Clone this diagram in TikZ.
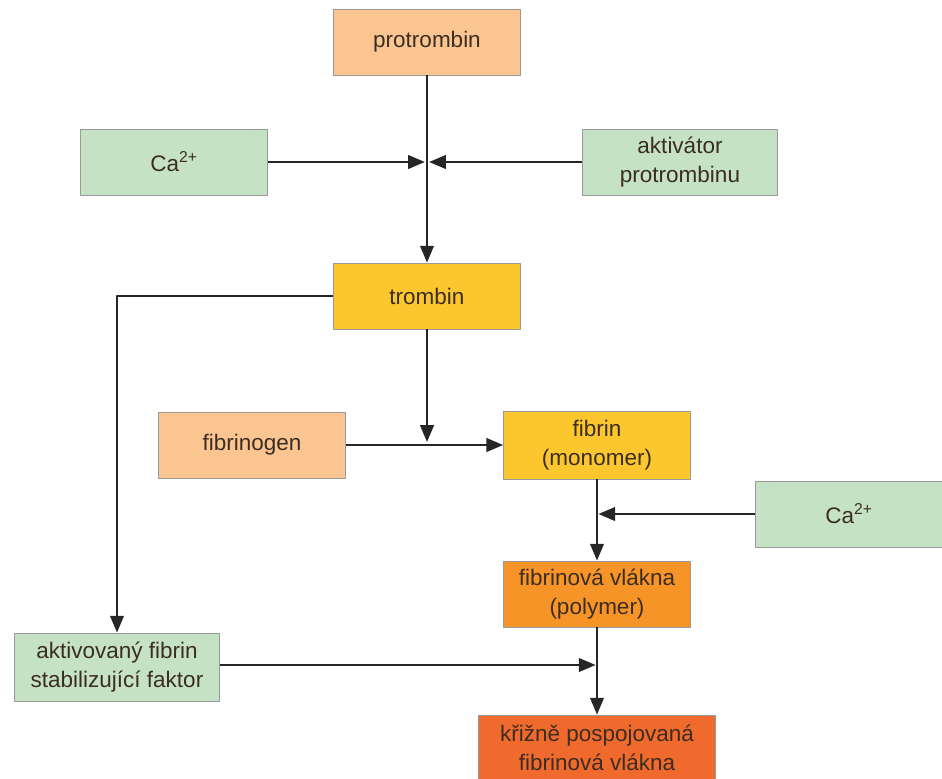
\documentclass[tikz,border=0pt]{standalone}
\usepackage{fontspec}
\setmainfont{Liberation Sans}
\usetikzlibrary{arrows.meta}
\definecolor{peach}{RGB}{251,197,146}
\definecolor{mint}{RGB}{197,227,196}
\definecolor{sun}{RGB}{252,199,46}
\definecolor{amber}{RGB}{247,148,40}
\definecolor{rust}{RGB}{240,106,46}
\definecolor{ink}{RGB}{60,45,35}
\begin{document}
\begin{tikzpicture}[x=0.025cm, y=-0.025cm, line join=round, >={Triangle[length=0.42cm,width=0.34cm]},
	box/.style={draw=black!40, line width=0.6pt, minimum width=4.67cm, minimum height=1.65cm,
		align=center, text=ink, font=\fontsize{16}{21}\selectfont},
	link/.style={line width=1.6pt, black!85}]
	\useasboundingbox (0,0) rectangle (942,778);
	% boxes
	\node[box, fill=peach] (protrombin) at (427,42) {protrombin};
	\node[box, fill=mint] (ca) at (174,162) {Ca\textsuperscript{2+}};
	\node[box, fill=mint, minimum width=4.87cm] (aktivator) at (680,162) {aktivátor\\protrombinu};
	\node[box, fill=sun] (trombin) at (427,296) {trombin};
	\node[box, fill=peach] (fibrinogen) at (252,445) {fibrinogen};
	\node[box, fill=sun, minimum height=1.7cm] (fibrin) at (597,445) {fibrin\\(monomer)};
	\node[box, fill=mint] (caII) at (849,514) {Ca\textsuperscript{2+}};
	\node[box, fill=amber] (vlakna) at (597,594) {fibrinová vlákna\\(polymer)};
	\node[box, fill=mint, minimum width=5.12cm, minimum height=1.7cm] (faktor) at (117,667) {aktivovaný fibrin\\stabilizující faktor};
	\node[box, fill=rust, minimum width=5.92cm] (krizne) at (597,748) {křižně pospojovaná\\fibrinová vlákna};
	% joints
	\coordinate (j1) at (427,162);
	\coordinate (j2) at (427,442);
	\coordinate (j3) at (597,514);
	\coordinate (j4) at (597,665);
	% connectors
	\draw[link,->] (protrombin) -- (trombin);
	\draw[link,->,shorten >=1.5pt] (ca) -- (j1);
	\draw[link,->,shorten >=1.5pt] (aktivator) -- (j1);
	\draw[link,->] (trombin) -- (j2);
	\draw[link,->] (fibrinogen) -- (fibrin);
	\draw[link,->] (trombin.west) -| (faktor.north);
	\draw[link,->] (fibrin) -- (vlakna);
	\draw[link,->,shorten >=1pt] (caII) -- (j3);
	\draw[link,->] (vlakna) -- (krizne);
	\draw[link,->,shorten >=1pt] (faktor.east |- j4) -- (j4);
\end{tikzpicture}
\end{document}
